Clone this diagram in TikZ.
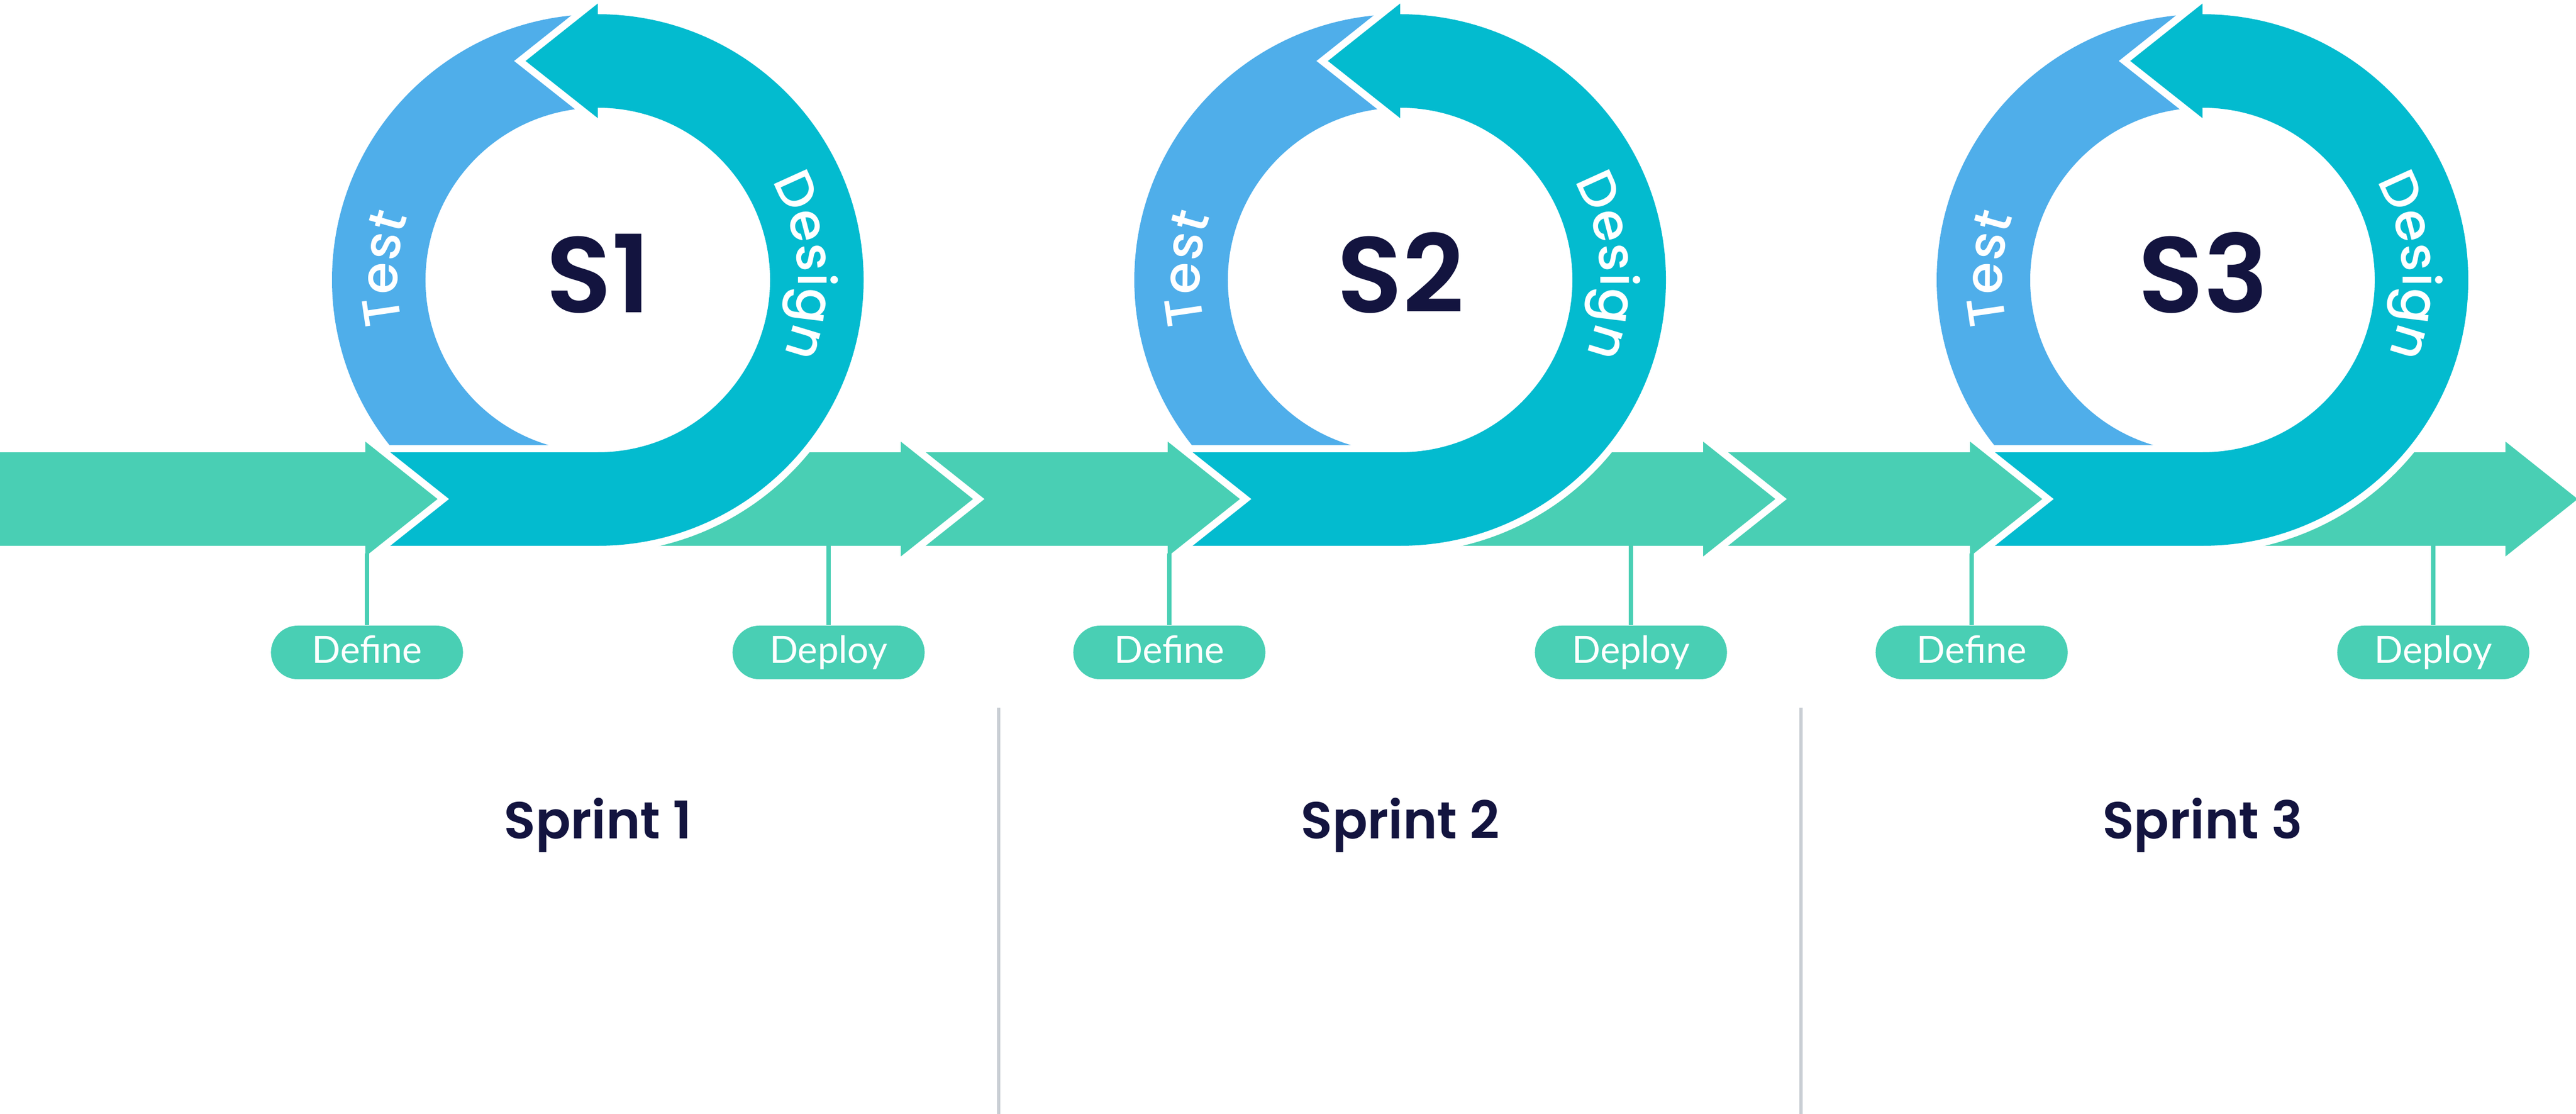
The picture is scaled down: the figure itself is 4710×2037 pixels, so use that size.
\documentclass[tikz,border=0pt]{standalone}
\usepackage{fontspec}
\setmainfont{Poppins}
\newfontfamily\popsemi{Poppins SemiBold}
\newfontfamily\popmed{Poppins Medium}
\newfontfamily\latofont{Lato}
\usetikzlibrary{decorations.text}
\definecolor{gr}{HTML}{49CFB4}
\definecolor{cy}{HTML}{03BBCF}
\definecolor{bl}{HTML}{4FAEEA}
\definecolor{navy}{HTML}{13143F}
\definecolor{sepc}{HTML}{C9CED4}
\begin{document}
\begin{tikzpicture}[x=0.01cm,y=-0.01cm,
  halo/.style={preaction={draw=white,line width=0.26cm,line join=miter}},
  grfill/.style={fill=gr,halo},
  cyfill/.style={fill=cy,halo},
  blfill/.style={fill=bl},
  pill/.style={fill=gr,rounded corners=0.49cm,minimum width=3.51cm,minimum height=0.98cm,
    inner sep=0pt,text=white,font=\latofont\fontsize{19.5pt}{20pt}\selectfont,
    text height=0.49cm,text depth=0.11cm},
  stem/.style={draw=gr,line width=0.08cm},
  sepline/.style={draw=sepc,line width=0.06cm},
  bigS/.style={text=navy,font=\popsemi\fontsize{56pt}{60pt}\selectfont,inner sep=0pt,anchor=base},
  sprint/.style={text=navy,font=\popsemi\fontsize{27pt}{30pt}\selectfont,inner sep=0pt,anchor=base},
  ringtext/.style={decorate,decoration={text along path,text align=center,text color=white,
    text={|\popmed\fontsize{27pt}{30pt}\selectfont|#1}}}
]
\fill[white] (0,0) rectangle (4710,2037);
\useasboundingbox (0,0) rectangle (4710,2037);

\foreach \cx/\k/\lx in {4027/3/3150, 2560/2/1683, 1093/1/0} {
  % band after the loop (under the loop)
  \path[grfill] (\cx,827) -- (\cx+554,827) -- (\cx+554,807.5) -- (\cx+686,912.5)
     -- (\cx+554,1017.5) -- (\cx+554,998) -- (\cx,998) -- cycle;
  % Test segment
  \path[blfill] (\cx,26) arc[start angle=270,end angle=141.58,radius=486]
     -- (\cx-89.6,814) arc[start angle=106.53,end angle=270,radius=315] -- cycle;
  % Design segment with arrowhead
  \path[cyfill] (\cx,26) arc[start angle=-90,end angle=90,radius=486]
     -- (\cx-380,998) -- (\cx-274,912.5) -- (\cx-380,827) -- (\cx,827)
     arc[start angle=90,end angle=-90,radius=315]
     -- (\cx,216) -- (\cx-132,111.5) -- (\cx,6.5) -- cycle;
  % band before the loop (on top of loop)
  \path[grfill] (\lx,827) -- (\cx-425,827) -- (\cx-425,807.5) -- (\cx-293,912.5)
     -- (\cx-425,1017.5) -- (\cx-425,998) -- (\lx,998) -- cycle;
  % ring labels
  \path[ringtext=Test] ({\cx+366*cos(153)},{512+366*sin(153)})
     arc[start angle=153,end angle=213,radius=366];
  \path[ringtext=Design] ({\cx+366*cos(-34)},{512+366*sin(-34)})
     arc[start angle=-34,end angle=26,radius=366];
  \node[bigS] (s\k) at (\cx+1,571.5) {S\k};
  \node[sprint] (sp\k) at (\cx,1533) {Sprint \k};
  \node[pill] (def\k) at (\cx-422,1193) {Define};
  \node[pill] (dep\k) at (\cx+422,1193) {Deploy};
  \coordinate (dh\k) at (\cx-422,1012);
  \coordinate (db\k) at (\cx+422,998);
  \draw[stem] (dh\k) -- (def\k.north);
  \draw[stem] (db\k) -- (dep\k.north);
}
\coordinate (sa1) at (1826,1294);
\coordinate (sa2) at (1826,2037);
\coordinate (sb1) at (3293,1294);
\coordinate (sb2) at (3293,2037);
\draw[sepline] (sa1) -- (sa2);
\draw[sepline] (sb1) -- (sb2);
\end{tikzpicture}
\end{document}
